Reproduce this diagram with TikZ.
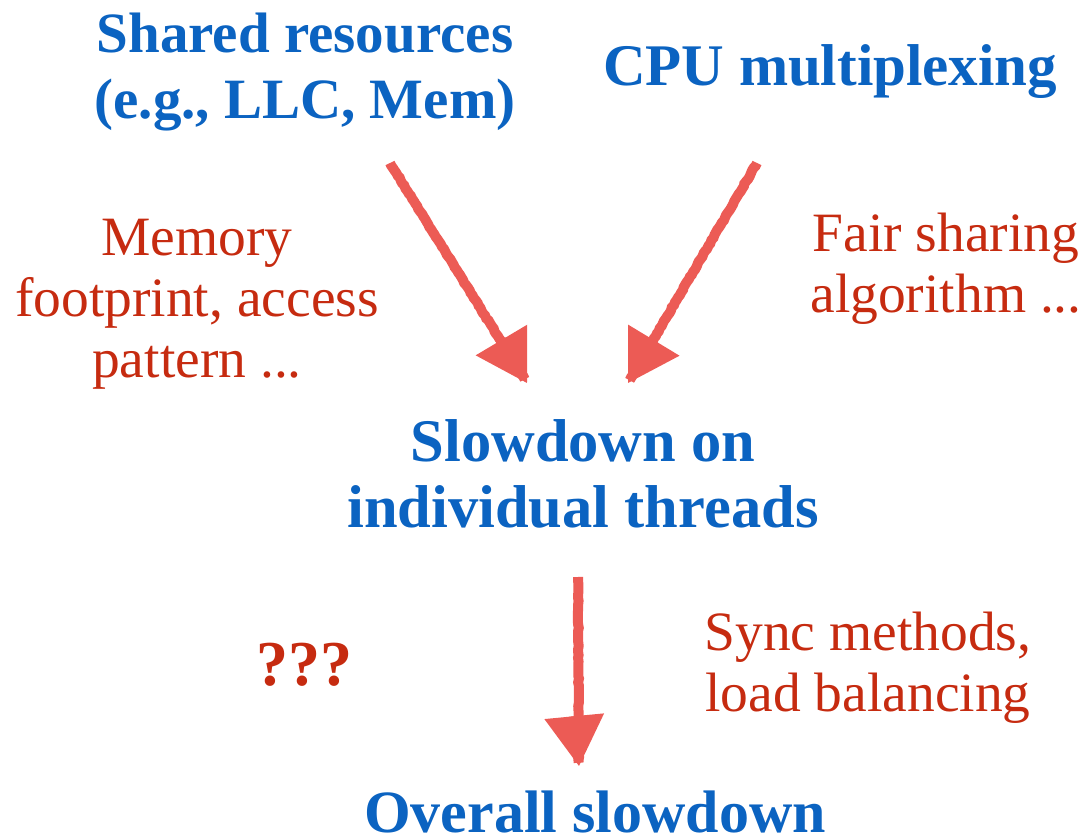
\documentclass[tikz,border=0pt]{standalone}
\usepackage{fontspec}
\setmainfont{Liberation Serif}
\usetikzlibrary{arrows.meta,decorations.pathmorphing}
\definecolor{headblue}{HTML}{0B63C1}
\definecolor{notered}{HTML}{C62B10}
\definecolor{chalk}{HTML}{EC5B55}
\newcommand{\headsize}[1]{\bfseries\fontsize{#1}{66}\selectfont}
\begin{document}
\begin{tikzpicture}[x=1pt,y=-1pt,
  head/.style={text=headblue,font=\headsize{57},align=center,inner sep=0pt},
  note/.style={text=notered,font=\fontsize{55.5}{61}\selectfont,align=center,inner sep=0pt},
  chalkarrow/.style={draw=chalk,line width=10pt,
    decorate,decoration={random steps,segment length=3pt,amplitude=0.5pt},
    -{Triangle[length=50pt,width=60pt,line width=0pt]}}]
\useasboundingbox (0,0) rectangle (1085,837);
% headings
\node[head] (shared) at (305,72) {Shared resources\\(e.g., LLC, Mem)};
\node[head,font=\headsize{59}] (cpu) at (830,72) {CPU multiplexing};
\node[head,font=\headsize{60.5}] (slow) at (583,474) {Slowdown on\\individual threads};
\node[head,font=\headsize{60}] (overall) at (595,812) {Overall slowdown};
% annotations
\node[note] (mem) at (197,304) {Memory\\footprint, access\\pattern ...};
\node[note] (fair) at (946,269) {Fair sharing\\algorithm ...};
\node[note] (sync) at (868,668) {Sync methods,\\load balancing};
\node[text=notered,font=\bfseries\fontsize{64}{64}\selectfont,inner sep=0pt] (q) at (304,665) {???};
% arrows
\coordinate (a1s) at (390,163);
\coordinate (a1e) at (527,383);
\coordinate (a2s) at (757,163);
\coordinate (a2e) at (628,383);
\coordinate (a3s) at (578,577);
\coordinate (a3e) at (579,766);
\draw[chalkarrow] (a1s) -- (a1e);
\draw[chalkarrow] (a2s) -- (a2e);
\draw[chalkarrow] (a3s) -- (a3e);
\end{tikzpicture}
\end{document}
